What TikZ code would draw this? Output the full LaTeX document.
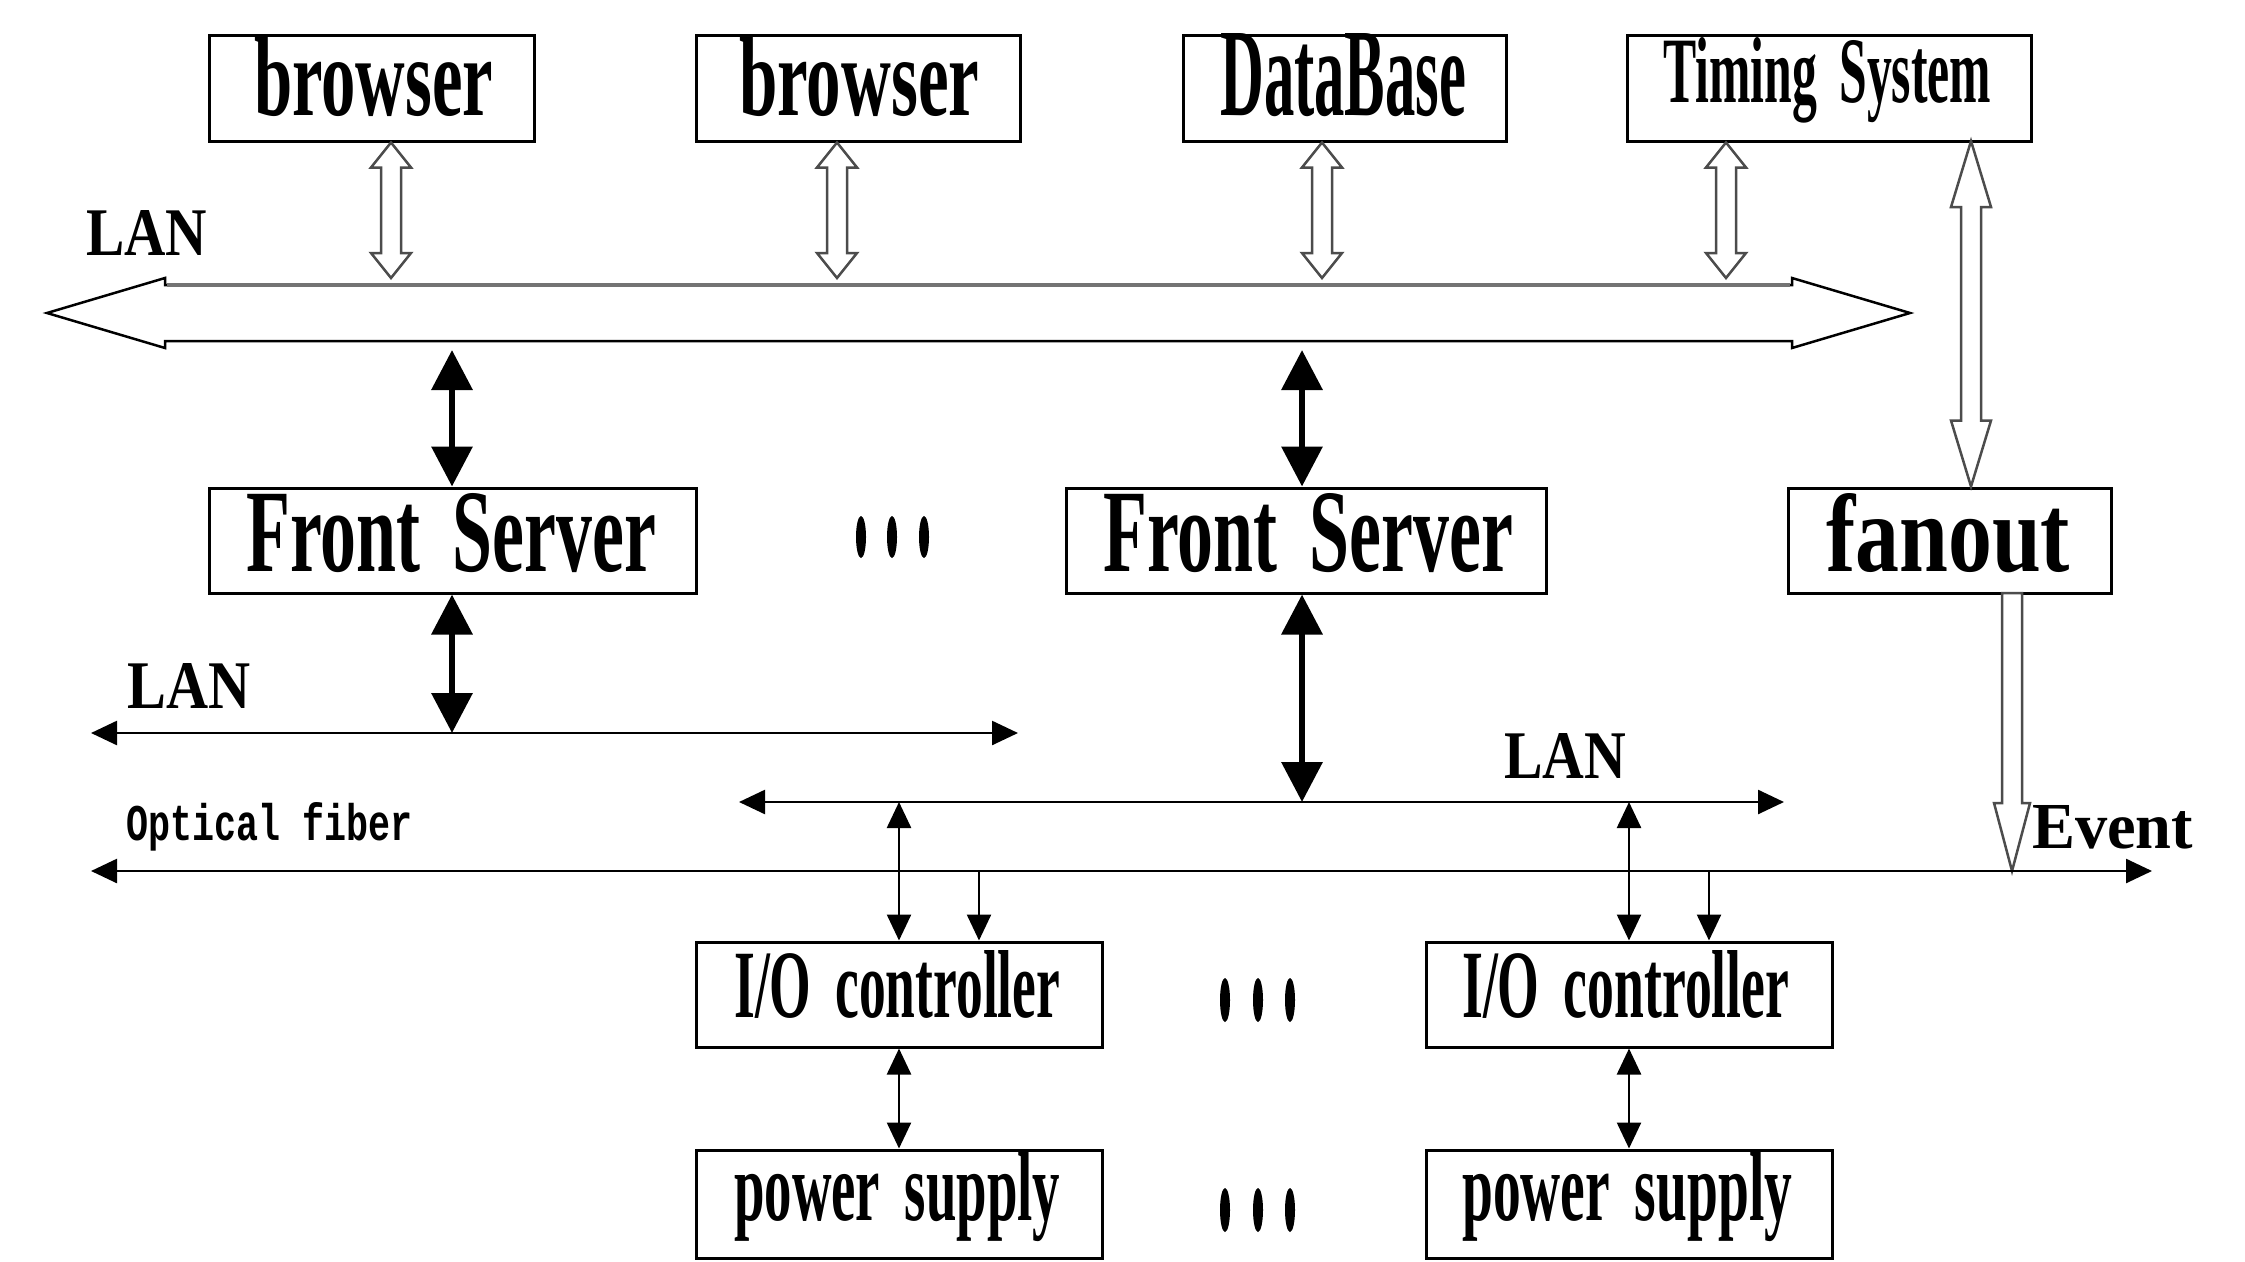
\documentclass[tikz,border=0pt]{standalone}
\usepackage{fontspec}
\usetikzlibrary{arrows.meta,calc}
\newfontfamily\boxfont{Liberation Mono}
\newfontfamily\serifb{Liberation Serif}
\newcommand\fitt[3]{\resizebox{#1pt}{#2pt}{#3}}
\newcommand\bt[1]{\serifb\bfseries #1}
\newcommand\mt[1]{\boxfont\bfseries #1}
\newcommand\lt[1]{\serifb\bfseries #1}
\newcommand\ws{\hspace{0.45em}}
\begin{document}
\begin{tikzpicture}[x=1pt,y=-1pt,
  box/.style={draw, line width=3pt, inner sep=0pt, fill=white},
  lbl/.style={inner sep=0pt, anchor=base west},
  thintip/.tip={Triangle[length=26pt,width=24pt]},
  thicktip/.tip={Triangle[length=40pt,width=40pt]},
  thinboth/.style={line width=2.5pt, thintip-thintip},
  thinend/.style={line width=2.5pt, -thintip},
  thickboth/.style={line width=6.5pt, thicktip-thicktip},
  hollowdbl/.style={draw=black!70, line width=2.5pt, fill=white, line join=miter, to path={
    -- ($(\tikztostart)+(20,#1)$) -- ($(\tikztostart)+(10,#1)$)
    -- ($(\tikztostart |- \tikztotarget)+(10,-#1)$) -- ($(\tikztostart |- \tikztotarget)+(20,-#1)$)
    -- (\tikztostart |- \tikztotarget)
    -- ($(\tikztostart |- \tikztotarget)+(-20,-#1)$) -- ($(\tikztostart |- \tikztotarget)+(-10,-#1)$)
    -- ($(\tikztostart)+(-10,#1)$) -- ($(\tikztostart)+(-20,#1)$) -- cycle}},
  hollowsgl/.style={draw=black!70, line width=2.5pt, fill=white, line join=miter, to path={
    -- ($(\tikztostart)+(10,0)$)
    -- ($(\tikztostart |- \tikztotarget)+(10,-#1)$) -- ($(\tikztostart |- \tikztotarget)+(18,-#1)$)
    -- (\tikztostart |- \tikztotarget)
    -- ($(\tikztostart |- \tikztotarget)+(-18,-#1)$) -- ($(\tikztostart |- \tikztotarget)+(-10,-#1)$)
    -- ($(\tikztostart)+(-10,0)$) -- cycle}}
]
\fill[white] (0,0) rectangle (2245,1261);
\useasboundingbox (0,0) rectangle (2245,1261);

% LAN bus (big hollow double arrow)
\draw[line width=2.5pt, line join=miter] (47,313) -- (165,278) -- (165,285) -- (1792,285) -- (1792,278)
  -- (1910,313) -- (1792,348) -- (1792,341) -- (165,341) -- (165,348) -- cycle;
\draw[black!55, line width=4.5pt] (167,285) -- (1790,285);

% boxes
\node[box, minimum width=325pt, minimum height=106pt] (b1) at (371.5,88) {};
\node[box, minimum width=324pt, minimum height=106pt] (b2) at (858,88) {};
\node[box, minimum width=323pt, minimum height=106pt] (db) at (1344.5,88) {};
\node[box, minimum width=404pt, minimum height=106pt] (ts) at (1829,88) {};
\node[box, minimum width=487pt, minimum height=105pt] (fs1) at (452.5,540.5) {};
\node[box, minimum width=480pt, minimum height=105pt] (fs2) at (1306,540.5) {};
\node[box, minimum width=323pt, minimum height=105pt] (fan) at (1949.5,540.5) {};
\node[box, minimum width=406pt, minimum height=105pt] (io1) at (899,994.5) {};
\node[box, minimum width=406pt, minimum height=105pt] (io2) at (1629,994.5) {};
\node[box, minimum width=406pt, minimum height=108pt] (ps1) at (899,1204) {};
\node[box, minimum width=406pt, minimum height=108pt] (ps2) at (1629,1204) {};

% texts
\node[lbl] (b1t) at (254,115) {\fitt{239}{78}{\bt{browser}}};
\node[lbl] (b2t) at (739,115) {\fitt{240}{78}{\bt{browser}}};
\node[lbl] (dbt) at (1220,115) {\fitt{246}{82}{\bt{DataBase}}};
\node[lbl] (tst) at (1663,102) {\fitt{328}{65}{\bt{Timing\ws System}}};
\node[lbl] (fs1t) at (246,571) {\fitt{410}{78}{\bt{Front\ws Server}}};
\node[lbl] (fs2t) at (1103,571) {\fitt{410}{78}{\bt{Front\ws Server}}};
\node[lbl] (fant) at (1826,571) {\fitt{244}{78}{\bt{fanout}}};
\node[lbl] (io1t) at (734,1017) {\fitt{326}{67}{\bt{I/O\ws controller}}};
\node[lbl] (io2t) at (1462,1017) {\fitt{327}{67}{\bt{I/O\ws controller}}};
\node[lbl] (ps1t) at (734,1220) {\fitt{326}{68}{\bt{power\ws supply}}};
\node[lbl] (ps2t) at (1462,1220) {\fitt{330}{68}{\bt{power\ws supply}}};
\node[lbl] (lan1) at (86,255) {\fitt{121}{45}{\lt{LAN}}};
\node[lbl] (lan2) at (127,708) {\fitt{123}{45}{\lt{LAN}}};
\node[lbl] (lan3) at (1504,778) {\fitt{122}{45}{\lt{LAN}}};
\node[lbl] (opt) at (126,840) {\fitt{286}{38}{\mt{Optical fiber}}};
\node[lbl] (ev) at (2032,848) {\fitt{161}{43}{\lt{Event}}};

% bus coordinates
\coordinate (busT1) at (391,278);
\coordinate (busT2) at (837,278);
\coordinate (busT3) at (1322,278);
\coordinate (busT4) at (1726,278);
\coordinate (busB1) at (452,350);
\coordinate (busB2) at (1302,350);
\coordinate (lan2L) at (91,733);
\coordinate (lan2R) at (1018,733);
\coordinate (lan2A) at (452,733);
\coordinate (lan3L) at (739,802);
\coordinate (lan3R) at (1784,802);
\coordinate (lan3A) at (1302,802);
\coordinate (lan3B) at (899,802);
\coordinate (lan3C) at (1629,802);
\coordinate (optL) at (91,871);
\coordinate (optR) at (2152,871);
\coordinate (optA) at (979,871);
\coordinate (optB) at (1709,871);
\coordinate (optE) at (2012,871);
\coordinate (tsF) at (1971,141);
\coordinate (fanE) at (2012,593);

% hollow arrows to LAN bus
\draw[hollowdbl=25] (b1.south -| busT1) to (busT1);
\draw[hollowdbl=25] (b2.south -| busT2) to (busT2);
\draw[hollowdbl=25] (db.south -| busT3) to (busT3);
\draw[hollowdbl=25] (ts.south -| busT4) to (busT4);
\draw[hollowdbl=66] (tsF) to (tsF |- fan.north);
\draw[hollowsgl=68] (fanE) to (optE);

% thick arrows
\draw[thickboth] (busB1) -- (busB1 |- fs1.north);
\draw[thickboth] (busB1 |- fs1.south) -- (lan2A);
\draw[thickboth] (busB2) -- (busB2 |- fs2.north);
\draw[thickboth] (busB2 |- fs2.south) -- (lan3A);

% thin buses
\draw[thinboth] (lan2L) -- (lan2R);
\draw[thinboth] (lan3L) -- (lan3R);
\draw[thinboth] (optL) -- (optR);

% I/O connections
\draw[thinboth] (lan3B) -- (io1.north);
\draw[thinend] (optA) -- (optA |- io1.north);
\draw[thinboth] (lan3C) -- (io2.north);
\draw[thinend] (optB) -- (optB |- io2.north);
\draw[thinboth] (io1.south) -- (ps1.north);
\draw[thinboth] (io2.south) -- (ps2.north);

% ellipsis marks
\foreach \x in {861,892,924} \fill (\x,537) ellipse [x radius=5pt, y radius=21pt];
\foreach \x in {1225,1258,1290} {
  \fill (\x,1000) ellipse [x radius=5pt, y radius=22pt];
  \fill (\x,1210) ellipse [x radius=5pt, y radius=22pt];
}
\end{tikzpicture}
\end{document}
